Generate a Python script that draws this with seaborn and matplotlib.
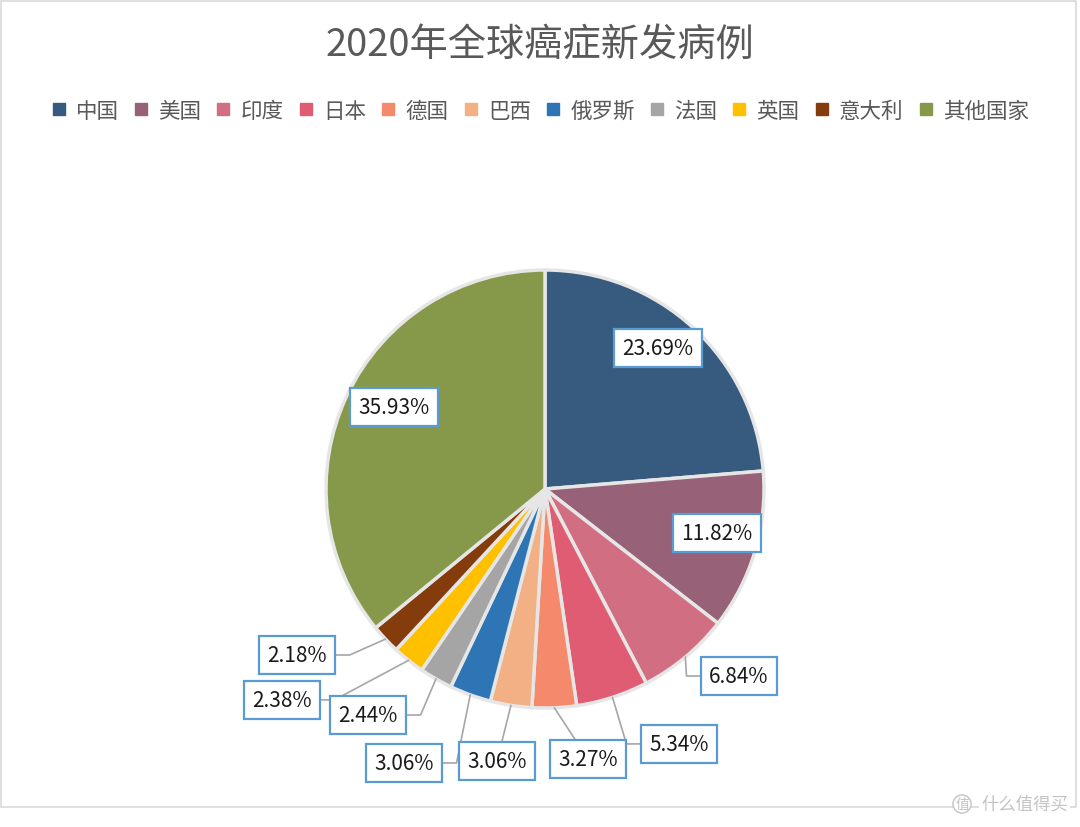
import numpy as np
import matplotlib.pyplot as plt
import seaborn as sns
from matplotlib.lines import Line2D
from matplotlib.patches import Rectangle

# ---------------------------------------------------------------------------
# data
# ---------------------------------------------------------------------------
countries = ['中国', '美国', '印度', '日本', '德国', '巴西', '俄罗斯',
             '法国', '英国', '意大利', '其他国家']
shares = [23.69, 11.82, 6.84, 5.34, 3.27, 3.06, 3.06, 2.44, 2.38, 2.18, 35.93]
colors = ['#375a7f', '#976178', '#d16e82', '#e05c72', '#f4896b', '#f2b084',
          '#2e75b6', '#a5a5a5', '#ffc000', '#843c0c', '#86994a']

# label box centres (pie-radius units) and whether a leader line is drawn
label_pos = [(0.516, 0.644), (0.785, -0.201), (0.886, -0.854), (0.612, -1.164),
             (0.196, -1.233), (-0.219, -1.242), (-0.644, -1.251),
             (-0.808, -1.032), (-1.201, -0.963), (-1.132, -0.758), (-0.689, 0.374)]
leader = [False, False, True, True, True, True, True, True, True, True, False]

# ---------------------------------------------------------------------------
# figure
# ---------------------------------------------------------------------------
sns.set_theme(style='white')
plt.rcParams['font.family'] = ['Noto Sans CJK SC', 'DejaVu Sans']

W, H = 1080, 828
cx, cy, R = 545, 490, 219
fig = plt.figure(figsize=(W / 100, H / 100), dpi=100)
ax = fig.add_axes([0, 0, 1, 1])

ax.pie(shares, colors=colors, startangle=90, counterclock=False, radius=1,
       wedgeprops=dict(edgecolor='#e6e6e6', linewidth=2.5))
ax.set_xlim(-cx / R, (W - cx) / R)
ax.set_ylim(-(H - cy) / R, cy / R)
ax.set_aspect('auto')
ax.axis('off')

# data labels + leader lines
cum = np.cumsum([0] + shares[:-1])
for i, (v, (bx, by)) in enumerate(zip(shares, label_pos)):
    if leader[i]:
        ang = np.deg2rad((cum[i] + v / 2) / sum(shares) * 360)
        px, py = np.sin(ang), np.cos(ang)
        if abs(bx) < 0.35:
            xs, ys = [px, bx], [py, by]
        else:
            ex = bx - 0.24 if bx > 0 else bx + 0.24
            xs, ys = [px, ex, bx], [py, by, by]
        ax.plot(xs, ys, color='#a6a6a6', lw=1.2, zorder=3)
    ax.text(bx, by, f'{v:.2f}%', ha='center', va='center', fontsize=15,
            color='#1a1a1a', zorder=5,
            bbox=dict(boxstyle='square,pad=0.4', fc='white', ec='#5b9bd5', lw=1.6))

# title
fig.text(540 / W, 1 - 46 / H, '2020年全球癌症新发病例', ha='center', va='center',
         fontsize=27.5, color='#595959')

# legend
handles = [Line2D([], [], marker='s', linestyle='', markersize=9, color=c)
           for c in colors]
fig.legend(handles, countries, loc='center', bbox_to_anchor=(540 / W, 1 - 112 / H),
           ncol=len(countries), frameon=False, fontsize=15.5, handlelength=0.7,
           handletextpad=0.45, columnspacing=0.68, labelcolor='#595959')

# outer frame + watermark
fig.patches.append(Rectangle((0.001, 1 - 808 / H), 1076 / W - 0.001, 808 / H - 0.002,
                             transform=fig.transFigure, fill=False,
                             ec='#d9d9d9', lw=1.2))
fig.text(962 / W, 1 - 805 / H, '值', ha='center', va='center', fontsize=10,
         color='#c4c4c4',
         bbox=dict(boxstyle='circle,pad=0.15', fc='white', ec='#c4c4c4', lw=1))
fig.text(1068 / W, 1 - 805 / H, '什么值得买', ha='right', va='center', fontsize=12.5,
         color='#c4c4c4', bbox=dict(boxstyle='square,pad=0.1', fc='white', ec='none'))

plt.savefig('out.png', dpi=100)
plt.close()
